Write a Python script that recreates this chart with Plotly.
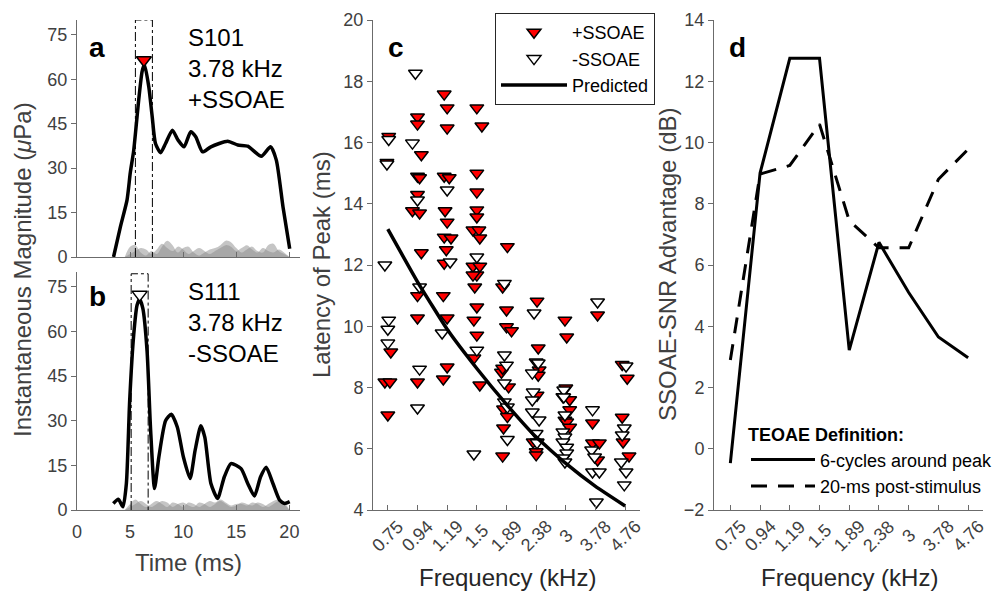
import plotly.graph_objects as go

# ---------------- data ----------------
# Panel a (S101, +SSOAE) envelope
a_time = [3.44, 4.08, 4.71, 5.02, 5.34, 5.81, 6.13, 6.35, 6.76, 7.08, 7.39, 7.87, 8.34, 8.98, 9.51,
          10.08, 10.71, 11.18, 11.82, 12.61, 14.19, 15.14, 16.08, 17.35, 18.23, 18.77, 19.4, 20.03]
a_mag = [0.0, 10.1, 19.2, 28.5, 36.0, 53.0, 62.6, 65.0, 57.5, 47.4, 38.3, 35.2, 38.3, 42.8, 39.5,
         37.2, 42.3, 40.6, 35.5, 37.2, 39.1, 37.8, 37.4, 34.0, 37.2, 32.7, 16.9, 2.8]
a_peak = (6.3, 66.5)
a_window = (5.5, 7.1, 80)

# Panel b (S111, -SSOAE) envelope
b_time = [3.42, 3.89, 4.33, 4.65, 4.96, 5.34, 5.66, 5.9, 6.2, 6.6, 6.92, 7.3, 7.71, 8.34, 8.88, 9.45,
          10.02, 10.65, 11.12, 11.66, 12.04, 12.61, 13.24, 13.87, 14.5, 15.45, 16.08, 16.71, 17.28,
          17.82, 18.45, 19.08, 19.55, 20.03]
b_mag = [2.2, 3.6, 1.1, 8.9, 36.7, 58.9, 68.9, 70.8, 67.8, 53.3, 27.8, 7.2, 17.8, 30.0, 32.2, 27.8,
         17.8, 10.6, 20.0, 28.3, 24.4, 8.9, 3.9, 11.1, 15.6, 13.9, 8.9, 4.7, 11.1,
         14.4, 8.9, 3.3, 2.2, 2.8]
b_peak = (5.9, 72.4)
b_window = (5.1, 6.7, 79.4)

# noise floors (grey shading)
noise_time = [4.5, 5, 5.5, 6, 6.5, 7, 7.5, 8, 8.5, 9, 9.5, 10, 10.5, 11, 11.5, 12, 12.5, 13, 13.5,
              14, 14.5, 15, 15.5, 16, 16.5, 17, 17.5, 18, 18.5, 19, 19.5, 20]
noise_a1 = [0, 3.5, 4, 1.5, 0.5, 2, 1, 3.5, 5.5, 4, 1.5, 3, 3.5, 1.5, 0.5, 1.5, 2.5, 3, 4, 5.5, 5, 3,
            1.5, 2.5, 3.5, 2, 1.5, 4, 4.5, 2, 1, 0]
noise_a2 = [0, 1, 2, 3, 2.5, 1, 2.5, 4.5, 3, 2, 3.5, 2.5, 1, 2, 3, 2, 1, 2, 3, 4, 3.5, 2, 3, 4, 2.5,
            1.5, 3, 2, 1.5, 2.5, 1.5, 0]
noise_b1 = [0, 2, 3.5, 2, 1, 2, 3, 2, 1, 2.5, 2, 1, 2.5, 2, 1, 2, 3, 2.5, 3.5, 2.5, 1.5, 2, 2, 1.5,
            2.5, 2, 1, 2, 3, 3.5, 2, 0]
noise_b2 = [0, 1, 2, 3, 2, 1, 2, 3, 2.5, 1, 2, 2.5, 1.5, 1, 2.5, 2, 1, 2, 3, 2, 1, 1.5, 2.5, 2, 1.5,
            2.5, 2, 1, 2, 3, 2.5, 0]

# Panel c / d categories
freq_labels = ['0.75', '0.94', '1.19', '1.5', '1.89', '2.38', '3', '3.78', '4.76']

# +SSOAE latencies (ms) per frequency, with small horizontal jitter (category units)
pos_lat = {
    '0.75': [16.2, 15.35, 9.16, 8.18, 8.18, 7.1],
    '0.94': [16.83, 16.6, 15.6, 14.9, 14.85, 14.3, 13.77, 13.7, 12.4, 11.0, 10.27, 8.18],
    '1.19': [17.58, 17.13, 16.47, 14.9, 14.85, 13.77, 13.4, 12.91, 12.88, 12.5, 12.06, 11.0, 10.27, 8.67, 8.28],
    '1.5': [17.13, 16.54, 15.0, 14.38, 13.8, 13.57, 13.14, 13.14, 12.88, 11.96, 11.96, 11.67, 11.67,
            11.28, 10.63, 10.2, 9.71, 8.96, 8.08],
    '1.89': [12.6, 11.28, 10.53, 9.98, 9.85, 8.5, 8.63, 8.02, 7.3, 7.05, 6.68, 5.76],
    '2.38': [10.82, 9.29, 8.57, 8.4, 7.75, 6.22, 6.22, 5.9, 5.8],
    '3': [10.2, 9.65, 7.98, 7.7, 7.6, 7.27, 6.93, 6.87, 6.7],
    '3.78': [10.37, 6.84, 6.19, 6.19, 5.63],
    '4.76': [8.75, 8.3, 7.03, 6.22, 5.76],
}
pos_jit = {
    '0.75': [0.03, -0.03, 0.1, -0.1, 0.07, 0],
    '0.94': [0, 0, 0.13, 0, 0.07, 0, -0.17, 0.07, 0.13, 0, 0, 0],
    '1.19': [-0.1, 0, 0, -0.1, 0.07, -0.07, 0, -0.1, 0.13, -0.03, -0.1, -0.13, 0, 0, -0.13],
    '1.5': [0, 0.17, 0, 0, 0, 0, -0.13, 0.07, 0.1, -0.13, 0.1, 0, -0.13, -0.07, 0, -0.1, 0, -0.1, 0.1],
    '1.89': [0.03, -0.13, 0, 0, 0.17, -0.17, -0.13, 0.07, -0.1, 0.03, -0.1, -0.13],
    '2.38': [0.03, 0.07, 0.1, 0.07, 0.03, -0.1, 0.03, 0, 0],
    '3': [-0.03, 0.03, 0, -0.1, 0.13, 0.13, -0.03, 0.03, 0.13],
    '3.78': [0.07, -0.1, -0.1, 0.13, 0.07],
    '4.76': [-0.1, 0.07, -0.1, -0.07, 0.13],
}
# -SSOAE latencies (ms)
neg_lat = {
    '0.75': [16.1, 15.3, 12.0, 10.2, 9.9, 9.45],
    '0.94': [18.26, 15.98, 14.12, 11.28, 8.6, 7.33],
    '1.19': [14.45, 12.1, 9.78],
    '1.5': [12.26, 9.22, 5.83],
    '1.89': [11.4, 9.06, 8.73, 8.15, 7.53, 7.36, 6.3],
    '2.38': [10.43, 8.83, 8.8, 8.47, 7.85, 7.59, 7.2, 6.94, 6.5, 6.2],
    '3': [7.92, 7.69, 7.1, 6.55, 6.38, 6.22, 6.05, 5.86, 5.7, 5.57],
    '3.78': [10.79, 7.27, 5.96, 5.73, 5.24, 5.24, 4.26],
    '4.76': [8.7, 6.68, 6.45, 5.57, 5.24, 4.82],
}
neg_jit = {
    '0.75': [0.03, -0.03, -0.1, 0.03, 0, 0],
    '0.94': [-0.07, -0.17, 0, 0.07, 0.07, 0],
    '1.19': [0, 0.1, -0.17],
    '1.5': [0, 0, -0.1],
    '1.89': [-0.07, -0.07, 0, -0.07, -0.07, 0.03, 0.03],
    '2.38': [-0.07, 0, 0.07, -0.13, -0.1, -0.13, -0.13, 0.1, 0, 0.03],
    '3': [-0.07, -0.07, -0.03, -0.1, -0.03, -0.1, 0.03, 0.03, -0.1, -0.03],
    '3.78': [0.07, -0.1, -0.13, -0.03, -0.1, 0.13, 0.03],
    '4.76': [0.03, -0.03, -0.1, -0.13, 0.03, -0.03],
}
predicted_lat = [13.17, 11.45, 9.9, 8.62, 7.45, 6.38, 5.52, 4.77, 4.13]

# Panel d SSOAE-SNR advantage (dB)
six_cycles = [-0.47, 9.0, 12.75, 12.75, 3.22, 6.74, 5.1, 3.65, 2.97]
twenty_ms = [2.9, 8.97, 9.25, 10.6, 7.45, 6.56, 6.56, 8.8, 9.78]

# ---------------- styling helpers ----------------
W, H = 997, 592
FONT = "Liberation Sans, Arial, sans-serif"
AX = '#6b6b6b'
TXT = '#404040'
NOISE = 'rgba(140,140,140,0.5)'


def X(p):
    return p / W


def Y(p):
    return 1 - p / H


def expand(lat, jit):
    xs, ys = [], []
    for i, lab in enumerate(freq_labels):
        for v, j in zip(lat[lab], jit[lab]):
            xs.append(i + j)
            ys.append(v)
    return xs, ys


fig = go.Figure()

# ---- panel a ----
for nz in (noise_a1, noise_a2):
    fig.add_trace(go.Scatter(x=noise_time, y=nz, xaxis='x', yaxis='y', mode='none', fill='tozeroy',
                             fillcolor=NOISE, line_shape='spline', showlegend=False))
fig.add_trace(go.Scatter(x=a_time, y=a_mag, xaxis='x', yaxis='y', mode='lines',
                         line=dict(color='black', width=3.5, shape='spline', smoothing=0.6), showlegend=False))
fig.add_trace(go.Scatter(x=[a_window[0], a_window[0], a_window[1], a_window[1]],
                         y=[0, a_window[2], a_window[2], 0], xaxis='x', yaxis='y', mode='lines',
                         line=dict(color='black', width=1, dash='dashdot'), showlegend=False))
fig.add_trace(go.Scatter(x=[a_peak[0]], y=[a_peak[1]], xaxis='x', yaxis='y', mode='markers',
                         marker=dict(symbol='triangle-down', size=13, color='red',
                                     line=dict(color='black', width=1.5)), showlegend=False))

# ---- panel b ----
for nz in (noise_b1, noise_b2):
    fig.add_trace(go.Scatter(x=noise_time, y=nz, xaxis='x2', yaxis='y2', mode='none', fill='tozeroy',
                             fillcolor=NOISE, line_shape='spline', showlegend=False))
fig.add_trace(go.Scatter(x=b_time, y=b_mag, xaxis='x2', yaxis='y2', mode='lines',
                         line=dict(color='black', width=3.5, shape='spline', smoothing=0.6), showlegend=False))
fig.add_trace(go.Scatter(x=[b_window[0], b_window[0], b_window[1], b_window[1]],
                         y=[0, b_window[2], b_window[2], 0], xaxis='x2', yaxis='y2', mode='lines',
                         line=dict(color='black', width=1, dash='dashdot'), showlegend=False))
fig.add_trace(go.Scatter(x=[b_peak[0]], y=[b_peak[1]], xaxis='x2', yaxis='y2', mode='markers',
                         marker=dict(symbol='triangle-down', size=13, color='white',
                                     line=dict(color='black', width=1.5)), showlegend=False))

# ---- panel c ----
px_, py_ = expand(pos_lat, pos_jit)
nx_, ny_ = expand(neg_lat, neg_jit)
fig.add_trace(go.Scatter(x=px_, y=py_, xaxis='x3', yaxis='y3', mode='markers', name='+SSOAE',
                         marker=dict(symbol='triangle-down', size=12, color='red',
                                     line=dict(color='black', width=1.5)), legend='legend'))
fig.add_trace(go.Scatter(x=nx_, y=ny_, xaxis='x3', yaxis='y3', mode='markers', name='-SSOAE',
                         marker=dict(symbol='triangle-down', size=12, color='white',
                                     line=dict(color='black', width=1.5)), legend='legend'))
fig.add_trace(go.Scatter(x=list(range(len(freq_labels))), y=predicted_lat, xaxis='x3', yaxis='y3',
                         mode='lines', name='Predicted',
                         line=dict(color='black', width=3.5, shape='spline', smoothing=0.4), legend='legend'))

# ---- panel d ----
fig.add_trace(go.Scatter(x=list(range(len(freq_labels))), y=six_cycles, xaxis='x4', yaxis='y4',
                         mode='lines', name='6-cycles around peak',
                         line=dict(color='black', width=3), legend='legend2'))
fig.add_trace(go.Scatter(x=list(range(len(freq_labels))), y=twenty_ms, xaxis='x4', yaxis='y4',
                         mode='lines', name='20-ms post-stimulus',
                         line=dict(color='black', width=3, dash='16px,11px'), legend='legend2'))


def yax(domain, rng, tickvals, anchor):
    return dict(domain=domain, range=rng, tickvals=tickvals, anchor=anchor, showline=True, linecolor=AX,
                linewidth=1, ticks='outside', ticklen=5, tickcolor=AX, showgrid=False, zeroline=False,
                tickfont=dict(size=18, color=TXT, family=FONT), fixedrange=True)


def xax(domain, rng, tickvals, anchor, showlabels=True):
    return dict(domain=domain, range=rng, tickvals=tickvals, anchor=anchor, showline=True, linecolor=AX,
                linewidth=1, ticks='inside', ticklen=5, tickcolor=AX, showgrid=False, zeroline=False,
                showticklabels=showlabels, ticklabelstandoff=5,
                tickfont=dict(size=18, color=TXT, family=FONT), fixedrange=True)


cat_idx = list(range(len(freq_labels)))

fig.update_layout(
    width=W, height=H, margin=dict(l=0, r=0, t=0, b=0, autoexpand=False),
    paper_bgcolor='white', plot_bgcolor='white',
    font=dict(family=FONT, color='black'),
    xaxis=xax([X(77), X(300)], [0, 21], [0, 5, 10, 15, 20], 'y', showlabels=False),
    yaxis=yax([Y(257), Y(20)], [0, 80], [0, 15, 30, 45, 60, 75], 'x'),
    xaxis2=xax([X(77), X(300)], [0, 21], [0, 5, 10, 15, 20], 'y2'),
    yaxis2=yax([Y(510), Y(272)], [0, 80], [0, 15, 30, 45, 60, 75], 'x2'),
    xaxis3=xax([X(373), X(640)], [-0.5, 8.5], cat_idx, 'y3', showlabels=False),
    yaxis3=yax([Y(510), Y(20)], [4, 20], list(range(4, 21, 2)), 'x3'),
    xaxis4=xax([X(714), X(983)], [-0.55, 8.5], cat_idx, 'y4', showlabels=False),
    yaxis4=yax([Y(510), Y(20)], [-2, 14], list(range(-2, 15, 2)), 'x4'),
    legend=dict(x=X(495), y=Y(13), xanchor='left', yanchor='top', bgcolor='white',
                bordercolor='#262626', borderwidth=1, font=dict(size=18, family=FONT, color='black'),
                itemwidth=66, tracegroupgap=0, traceorder='normal'),
    legend2=dict(x=X(746), y=Y(418), xanchor='left', yanchor='top', bgcolor='rgba(0,0,0,0)',
                 borderwidth=0, font=dict(size=18, family=FONT, color='black'), itemwidth=64,
                 title=dict(text='<b>TEOAE Definition:</b>', font=dict(size=18, family=FONT, color='black')),
                 traceorder='normal'),
)

ann = []


def add_text(text, x, y, size, xanchor='left', yanchor='top', angle=0, color='black', bold=False,
             xref='paper'):
    t = '<b>%s</b>' % text if bold else text
    ann.append(dict(text=t, x=X(x) if xref == 'paper' else x, y=Y(y), xref=xref, yref='paper',
                    xanchor=xanchor, yanchor=yanchor, showarrow=False, textangle=angle, align='left',
                    font=dict(size=size, family=FONT, color=color)))


# rotated category tick labels (centred under each tick)
for xr in ('x3', 'x4'):
    for i, lab in enumerate(freq_labels):
        add_text(lab, i, 536, 18, xanchor='center', yanchor='middle', angle=-45, color=TXT, xref=xr)

# panel letters
add_text('a', 87, 30, 28, bold=True)
add_text('b', 87, 279, 28, bold=True)
add_text('c', 386, 30, 28, bold=True)
add_text('d', 727, 30, 28, bold=True)
# sample info
add_text('S101<br>3.78 kHz<br>+SSOAE', 186, 22, 24)
add_text('S111<br>3.78 kHz<br>-SSOAE', 186, 276, 24)
# axis titles
add_text('Instantaneous Magnitude (<i>μ</i>Pa)', 22, 270, 24, xanchor='center', yanchor='middle', angle=-90, color=TXT)
add_text('Time (ms)', 188, 562, 24, xanchor='center', yanchor='middle', color=TXT)
add_text('Latency of Peak (ms)', 321, 265, 24, xanchor='center', yanchor='middle', angle=-90, color=TXT)
add_text('Frequency (kHz)', 507, 577, 24, xanchor='center', yanchor='middle', color='#262626')
add_text('SSOAE-SNR Advantage (dB)', 667, 265, 24, xanchor='center', yanchor='middle', angle=-90, color=TXT)
add_text('Frequency (kHz)', 849, 577, 24, xanchor='center', yanchor='middle', color='#262626')

fig.update_layout(annotations=ann)
fig.write_html("out.html", post_script="document.body.style.margin='0px';document.body.style.overflow='hidden';")
